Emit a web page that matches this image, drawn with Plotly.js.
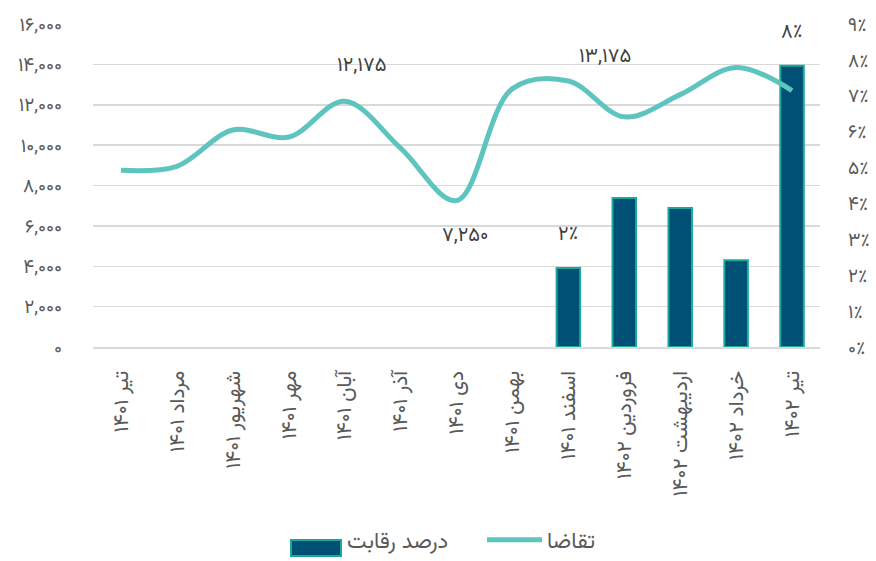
<!DOCTYPE html>
<html>
<head>
<meta charset="utf-8">
<script src="https://cdn.plot.ly/plotly-3.0.1.min.js"></script>
<style>html,body{margin:0;padding:0;background:#fff;}#chart{width:876px;height:561px;}</style>
</head>
<body>
<div id="chart"></div>
<script>
// ---- data ----
const categories = ['تیر ۱۴۰۱','مرداد ۱۴۰۱','شهریور ۱۴۰۱','مهر ۱۴۰۱','آبان ۱۴۰۱','آذر ۱۴۰۱','دی ۱۴۰۱','بهمن ۱۴۰۱','اسفند ۱۴۰۱','فروردین ۱۴۰۲','اردیبهشت ۱۴۰۲','خرداد ۱۴۰۲','تیر ۱۴۰۲'];
const demand = [8750, 8950, 10750, 10400, 12175, 9850, 7250, 12800, 13175, 11400, 12500, 13850, 12700];
const competition = [null, null, null, null, null, null, null, null, 0.022, 0.0415, 0.0387, 0.0242, 0.0784];
const demandName = 'تقاضا';
const competitionName = 'درصد رقابت';
const leftTickVals = [0, 2000, 4000, 6000, 8000, 10000, 12000, 14000, 16000];
const leftTickText = ['۰','۲,۰۰۰','۴,۰۰۰','۶,۰۰۰','۸,۰۰۰','۱۰,۰۰۰','۱۲,۰۰۰','۱۴,۰۰۰','۱۶,۰۰۰'];
const rightTickVals = [0, 0.01, 0.02, 0.03, 0.04, 0.05, 0.06, 0.07, 0.08, 0.09];
const rightTickText = ['۰٪','۱٪','۲٪','۳٪','۴٪','۵٪','۶٪','۷٪','۸٪','۹٪'];
const demandLabelIdx = [4, 6, 8];
const competitionLabelIdx = [8, 12];

// ---- helpers ----
const fa = s => String(s).replace(/[0-9]/g, d => '۰۱۲۳۴۵۶۷۸۹'[d]);
const fmtNum = v => fa(v.toLocaleString('en-US'));
const fmtPct = v => fa(Math.round(v * 100)) + '٪';

const FONT = "Vazirmatn, 'Noto Sans Arabic', 'DejaVu Sans', sans-serif";
const GRAY = '#595959';

const barTrace = {
  type: 'bar', name: competitionName, x: categories, y: competition,
  yaxis: 'y', width: 0.42,
  marker: {color: '#004f74', line: {color: '#1aa89c', width: 2}},
  hoverinfo: 'skip'
};
const lineTrace = {
  type: 'scatter', mode: 'lines', name: demandName, x: categories, y: demand,
  yaxis: 'y2', line: {color: '#5ec4bf', width: 5, shape: 'spline', smoothing: 1},
  hoverinfo: 'skip'
};

const lineShifts = {4: [17, 35], 6: [8, -35], 8: [37, 24]};
const annotations = [];
demandLabelIdx.forEach(i => {
  annotations.push({x: categories[i], y: demand[i], xref: 'x', yref: 'y2',
    text: fmtNum(demand[i]), showarrow: false,
    xshift: lineShifts[i][0], yshift: lineShifts[i][1],
    font: {family: FONT, size: 20, color: '#404040'}});
});
competitionLabelIdx.forEach(i => {
  annotations.push({x: categories[i], y: competition[i], xref: 'x', yref: 'y',
    text: fmtPct(competition[i]), showarrow: false, yshift: 33,
    font: {family: FONT, size: 20, color: '#404040'}});
});

const layout = {
  width: 876, height: 561,
  margin: {l: 93, r: 56, t: 24, b: 214},
  paper_bgcolor: '#ffffff', plot_bgcolor: '#ffffff',
  font: {family: FONT, color: GRAY, size: 15},
  showlegend: true,
  legend: {orientation: 'h', xref: 'container', x: 282 / 876, xanchor: 'left',
    yref: 'container', y: -0.008, yanchor: 'bottom',
    itemwidth: 55, entrywidth: 130, entrywidthmode: 'pixels',
    font: {family: FONT, size: 22, color: GRAY}},
  xaxis: {type: 'category', tickangle: -90, showgrid: false, zeroline: false,
    showline: true, linecolor: '#d9d9d9', linewidth: 1.5,
    ticks: '', ticklabelstandoff: 14,
    tickfont: {family: FONT, size: 21, color: GRAY}},
  yaxis: {side: 'right', range: [0, 0.09], tickvals: rightTickVals, ticktext: rightTickText,
    showgrid: false, zeroline: false, showline: false,
    ticks: '', ticklabelstandoff: 27,
    tickfont: {family: FONT, size: 19, color: GRAY}},
  yaxis2: {overlaying: 'y', side: 'left', range: [0, 16000], tickvals: leftTickVals, ticktext: leftTickText,
    showgrid: true, gridcolor: '#d9d9d9', gridwidth: 1.5, zeroline: false, showline: false,
    ticks: '', ticklabelstandoff: 30,
    tickfont: {family: FONT, size: 19, color: GRAY}},
  annotations: annotations,
  bargap: 0.58
};

function widenBarSwatch(gd) {
  const items = gd.querySelectorAll('.legend .traces');
  items.forEach(item => {
    const text = item.querySelector('text.legendtext');
    if (!text) return;
    item.querySelectorAll('.legendpoints path').forEach(p => {
      const d = p.getAttribute('d') || '';
      if (!/^M6,6H-6V-6H6Z$/.test(d.replace(/\s/g, ''))) return;
      const tb = text.getBoundingClientRect();
      const inv = p.getScreenCTM().inverse();
      const pt = (x, y) => { const s = gd.querySelector('svg').createSVGPoint(); s.x = x; s.y = y; return s.matrixTransform(inv); };
      const cy = tb.top + tb.height / 2 + 5;
      const a = pt(tb.left - 56, cy - 8), b = pt(tb.left - 6, cy + 8);
      p.setAttribute('d', `M${a.x},${a.y}H${b.x}V${b.y}H${a.x}Z`);
    });
  });
}

Plotly.newPlot('chart', [barTrace, lineTrace], layout, {displayModeBar: false, staticPlot: true}).then(gd => {
  widenBarSwatch(gd);
});
</script>
</body>
</html>
